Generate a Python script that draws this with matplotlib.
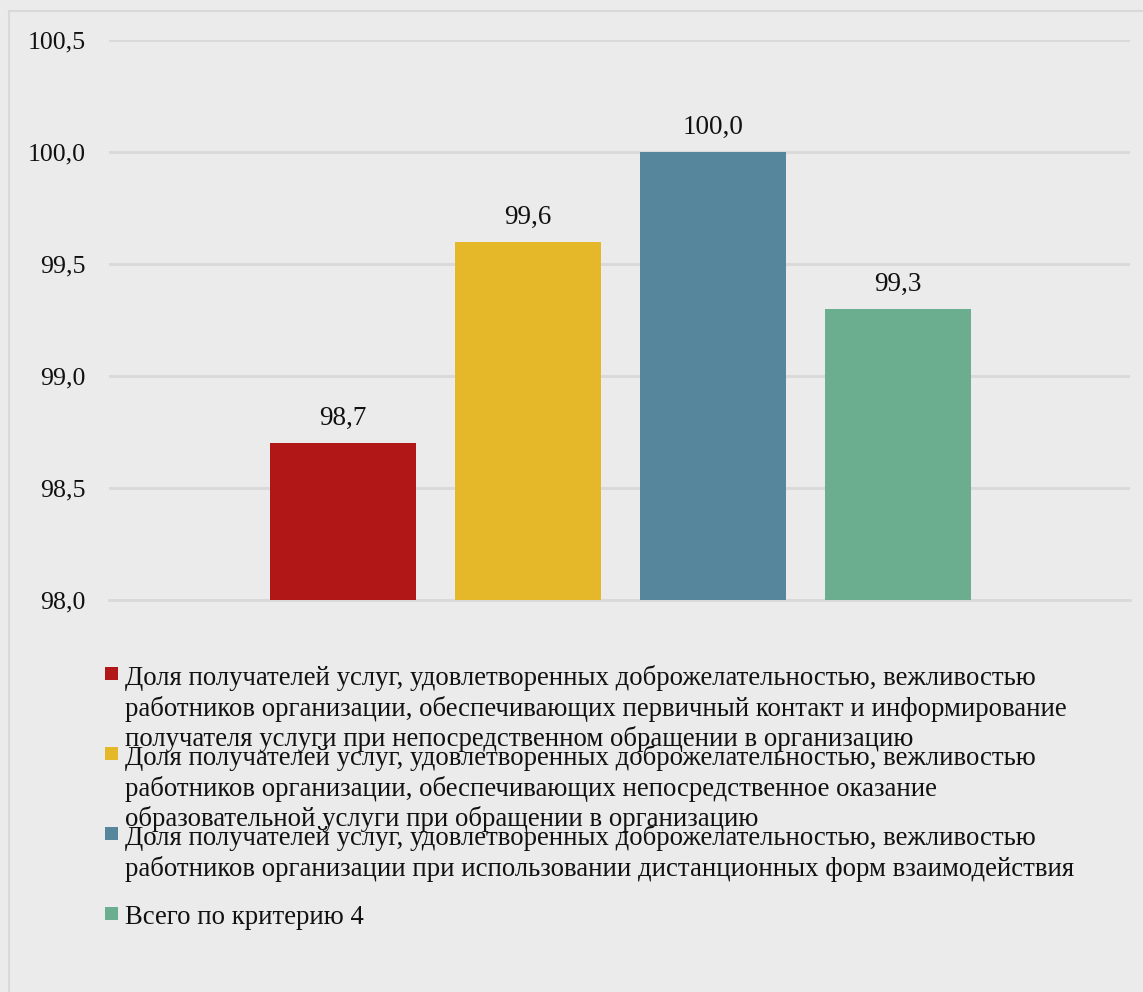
import matplotlib
matplotlib.use("Agg")
import matplotlib.pyplot as plt
from matplotlib.patches import Rectangle
from matplotlib.lines import Line2D

plt.rcParams['font.family'] = ['Liberation Serif', 'DejaVu Serif']

labels = [
    "Доля получателей услуг, удовлетворенных доброжелательностью, вежливостью\n"
    "работников организации, обеспечивающих первичный контакт и информирование\n"
    "получателя услуги при непосредственном обращении в организацию",
    "Доля получателей услуг, удовлетворенных доброжелательностью, вежливостью\n"
    "работников организации, обеспечивающих непосредственное оказание\n"
    "образовательной услуги при обращении в организацию",
    "Доля получателей услуг, удовлетворенных доброжелательностью, вежливостью\n"
    "работников организации при использовании дистанционных форм взаимодействия",
    "Всего по критерию 4",
]
values = [98.7, 99.6, 100.0, 99.3]
colors = ["#b01716", "#e5b82a", "#55869b", "#6aad8f"]
yticks = [98.0, 98.5, 99.0, 99.5, 100.0, 100.5]
ytick_labels = ["98,0", "98,5", "99,0", "99,5", "100,0", "100,5"]

W, H = 1143, 992
bg = "#ebebeb"
txt = "#111111"
fig = plt.figure(figsize=(W / 100, H / 100), dpi=100, facecolor=bg)

# axes in pixel coords: left 109, right 1130, bottom y=600, top y=40
ax = fig.add_axes([109 / W, 1 - 600 / H, (1130 - 109) / W, (600 - 40) / H])
ax.set_facecolor(bg)

xs = list(range(len(values)))
bars = ax.bar(xs, [v - 98.0 for v in values], bottom=98.0, width=0.79,
              color=colors, zorder=3)
for x, v in zip(xs, values):
    ax.annotate(f"{v:.1f}".replace(".", ","), (x, v), xytext=(0, 8.5),
                textcoords="offset points", ha="center", va="bottom",
                fontsize=19.5, color=txt)

ax.set_xlim(-1.265, 4.254)
ax.set_ylim(98.0, 100.5)
ax.set_yticks(yticks)
ax.set_yticklabels(ytick_labels, fontsize=18.6, color=txt)
ax.set_xticks([])
ax.tick_params(axis="y", length=0, pad=17)
ax.yaxis.grid(True, color="#d9d9d9", linewidth=2, zorder=0)
ax.set_axisbelow(True)
for s in ax.spines.values():
    s.set_visible(False)
ax.spines["bottom"].set_visible(True)
ax.spines["bottom"].set_color("#d9d9d9")
ax.spines["bottom"].set_linewidth(2)

# outer border (left and top)
fig.add_artist(Line2D([8.5 / W, 8.5 / W], [0, 1 - 10.5 / H], transform=fig.transFigure,
                      color="#d9d9d9", linewidth=1.5))
fig.add_artist(Line2D([8.5 / W, 1], [1 - 10.5 / H, 1 - 10.5 / H], transform=fig.transFigure,
                      color="#d9d9d9", linewidth=1.5))

# legend drawn manually
entry_tops = [676, 756, 836, 916]
for lab, col, yc in zip(labels, colors, entry_tops):
    fig.add_artist(Rectangle((105 / W, 1 - (yc + 4) / H), 13 / W, 13 / H,
                             transform=fig.transFigure, facecolor=col, edgecolor="none"))
    fig.text(125 / W, 1 - (yc - 11) / H, lab, ha="left", va="top", fontsize=19.3,
             color=txt, linespacing=1.23)

fig.savefig("out.png", dpi=100, facecolor=bg)
